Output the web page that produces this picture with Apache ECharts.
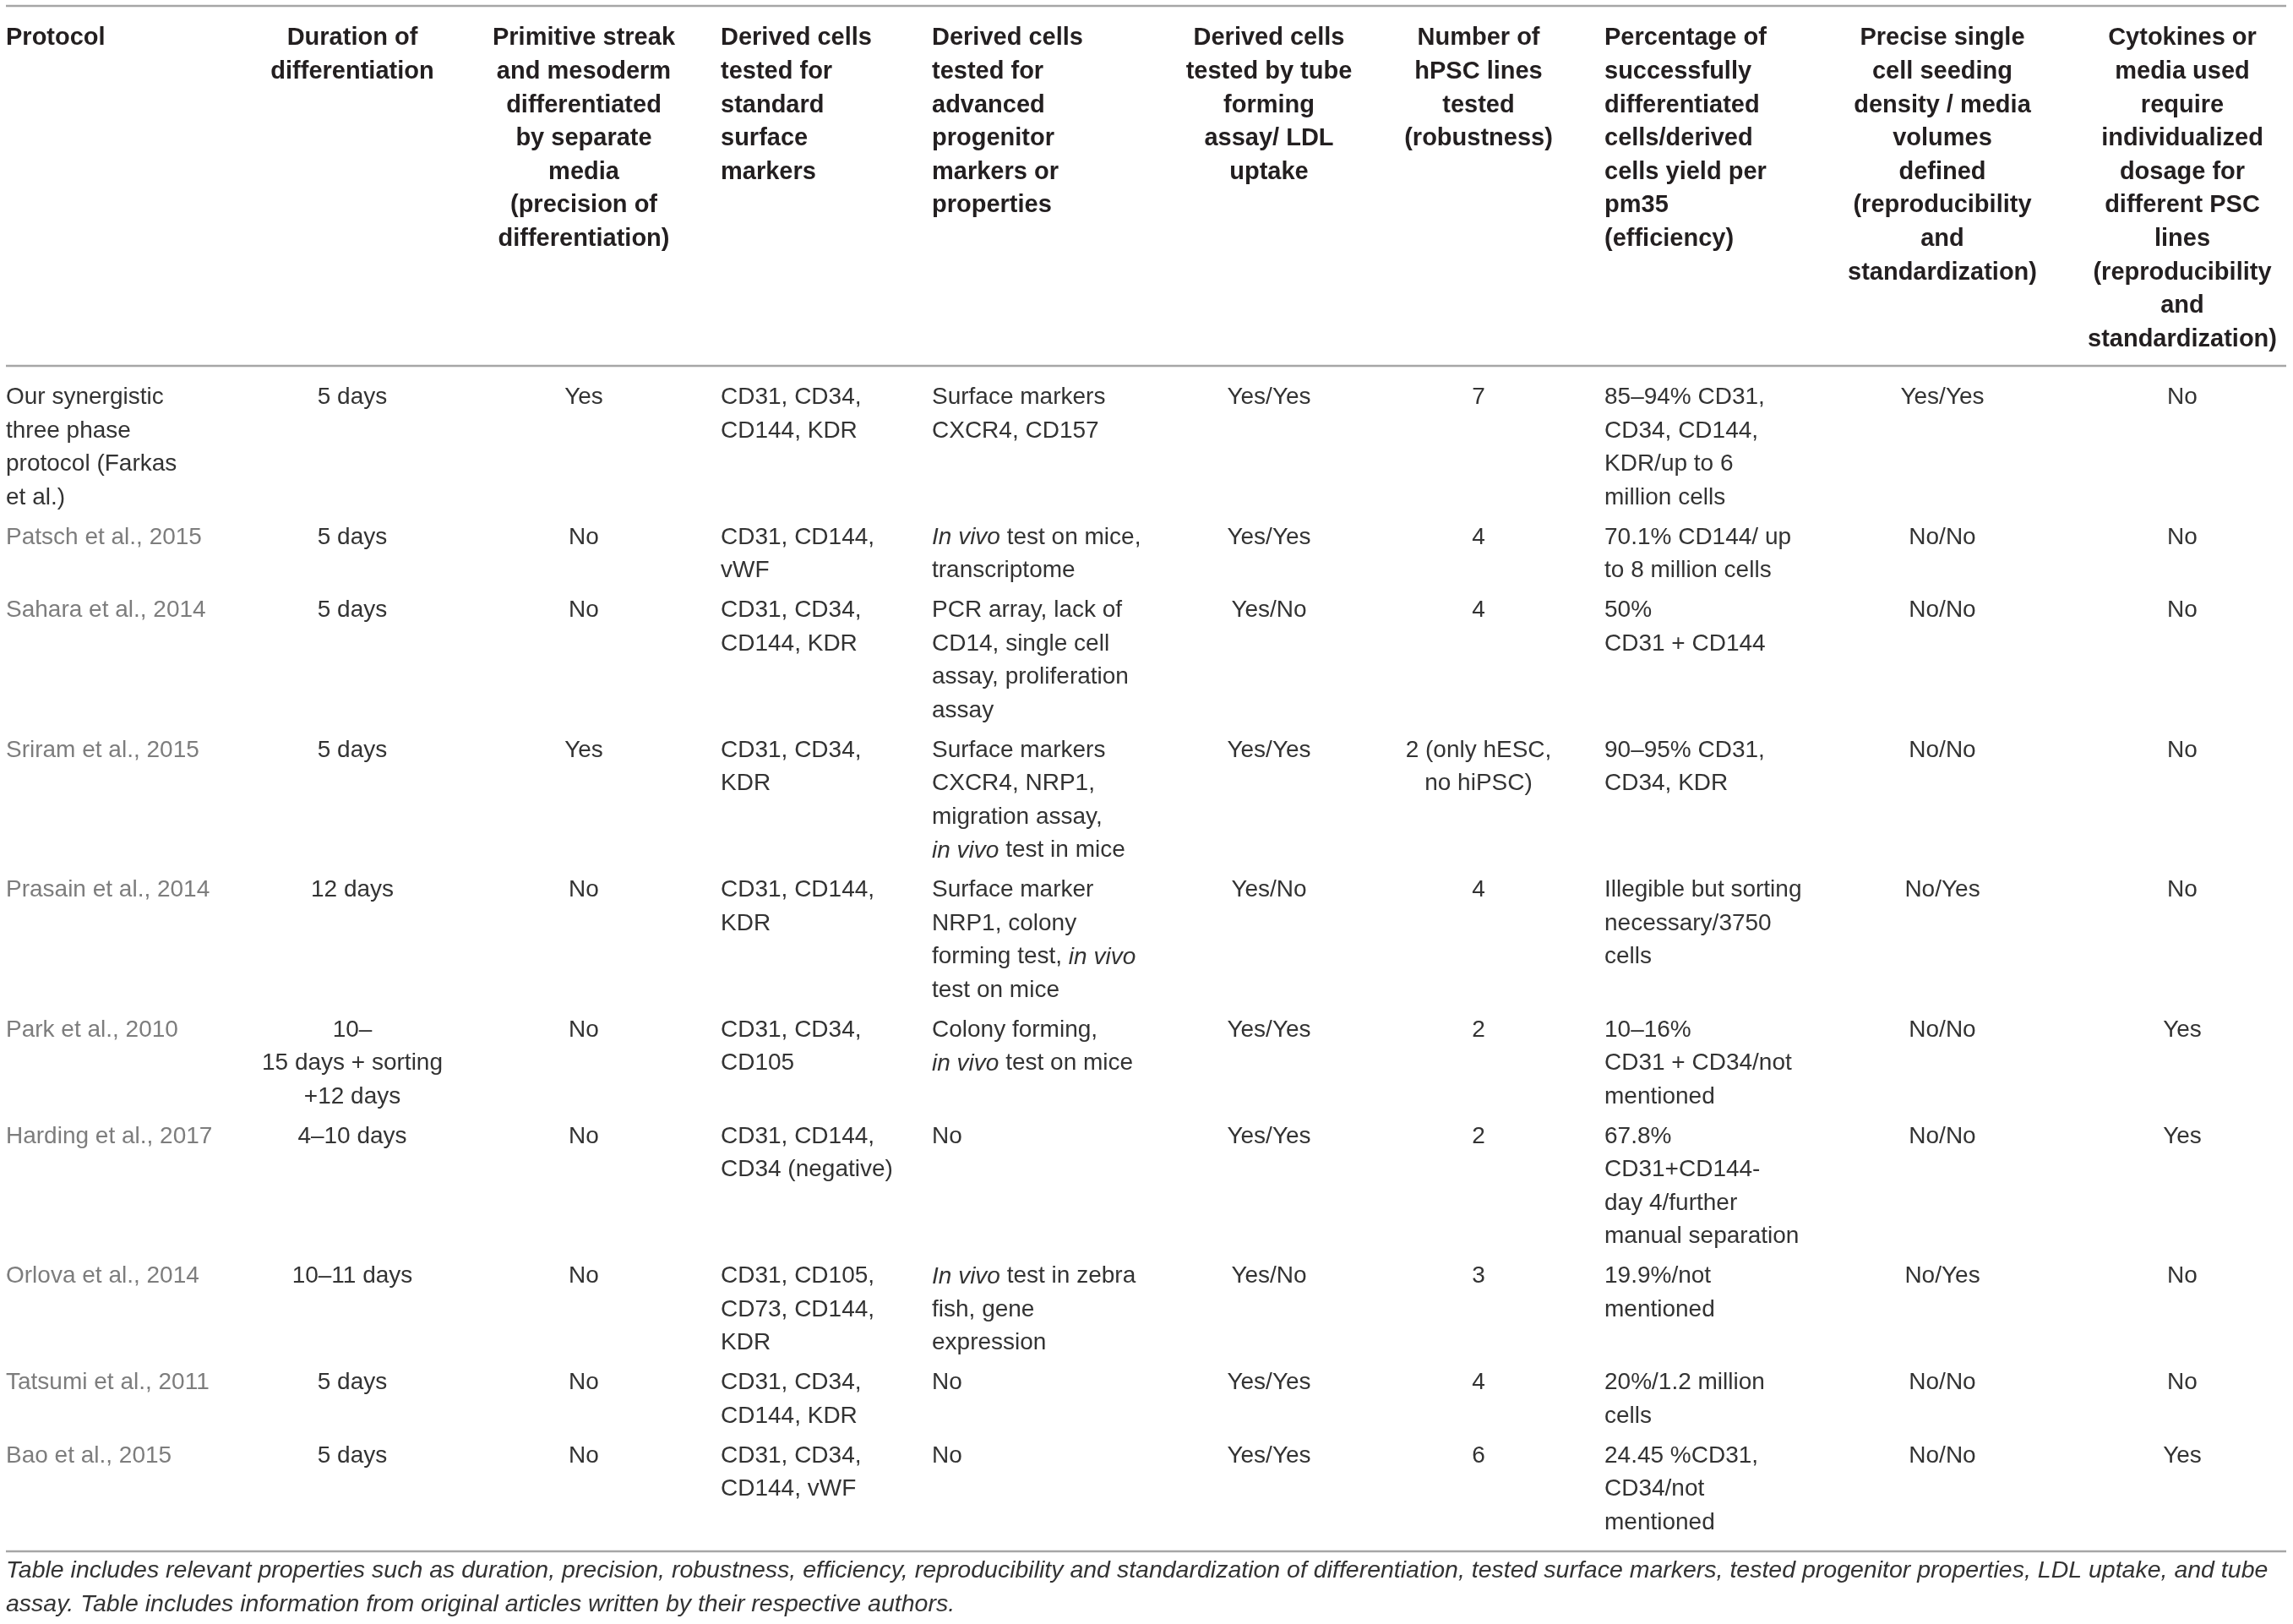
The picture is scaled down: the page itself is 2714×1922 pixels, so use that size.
<!DOCTYPE html>
<html>
<head>
<meta charset="utf-8">
<script src="https://cdn.jsdelivr.net/npm/echarts@6/dist/echarts.min.js"></script>
<style>
  html, body { margin: 0; padding: 0; background: #fff; }
  #chart { width: 2714px; height: 1922px; }
</style>
</head>
<body>
<div id="chart"></div>
<script>
// table content, one array per column
const headers = [
  'Protocol',
  'Duration of\ndifferentiation',
  'Primitive streak\nand mesoderm\ndifferentiated\nby separate\nmedia\n(precision of\ndifferentiation)',
  'Derived cells\ntested for\nstandard\nsurface\nmarkers',
  'Derived cells\ntested for\nadvanced\nprogenitor\nmarkers or\nproperties',
  'Derived cells\ntested by tube\nforming\nassay/ LDL\nuptake',
  'Number of\nhPSC lines\ntested\n(robustness)',
  'Percentage of\nsuccessfully\ndifferentiated\ncells/derived\ncells yield per\npm35\n(efficiency)',
  'Precise single\ncell seeding\ndensity / media\nvolumes\ndefined\n(reproducibility\nand\nstandardization)',
  'Cytokines or\nmedia used\nrequire\nindividualized\ndosage for\ndifferent PSC\nlines\n(reproducibility\nand\nstandardization)'
]

const protocols = [
  'Our synergistic\nthree phase\nprotocol (Farkas\net al.)',
  'Patsch et al., 2015',
  'Sahara et al., 2014',
  'Sriram et al., 2015',
  'Prasain et al., 2014',
  'Park et al., 2010',
  'Harding et al., 2017',
  'Orlova et al., 2014',
  'Tatsumi et al., 2011',
  'Bao et al., 2015'
]

const durations = [
  '5 days', '5 days', '5 days', '5 days', '12 days',
  '10–\n15 days + sorting\n+12 days', '4–10 days', '10–11 days', '5 days', '5 days'
]

const primitiveStreak = ['Yes', 'No', 'No', 'Yes', 'No', 'No', 'No', 'No', 'No', 'No']

const standardMarkers = [
  'CD31, CD34,\nCD144, KDR',
  'CD31, CD144,\nvWF',
  'CD31, CD34,\nCD144, KDR',
  'CD31, CD34,\nKDR',
  'CD31, CD144,\nKDR',
  'CD31, CD34,\nCD105',
  'CD31, CD144,\nCD34 (negative)',
  'CD31, CD105,\nCD73, CD144,\nKDR',
  'CD31, CD34,\nCD144, KDR',
  'CD31, CD34,\nCD144, vWF'
]

const advancedMarkers = [
  'Surface markers\nCXCR4, CD157',
  '{i|In vivo} test on mice,\ntranscriptome',
  'PCR array, lack of\nCD14, single cell\nassay, proliferation\nassay',
  'Surface markers\nCXCR4, NRP1,\nmigration assay,\n{i|in vivo} test in mice',
  'Surface marker\nNRP1, colony\nforming test, {i|in vivo}\ntest on mice',
  'Colony forming,\n{i|in vivo} test on mice',
  'No',
  '{i|In vivo} test in zebra\nfish, gene\nexpression',
  'No',
  'No'
]

const tubeLdl = ['Yes/Yes', 'Yes/Yes', 'Yes/No', 'Yes/Yes', 'Yes/No', 'Yes/Yes', 'Yes/Yes', 'Yes/No', 'Yes/Yes', 'Yes/Yes']

const hpscLines = ['7', '4', '4', '2 (only hESC,\nno hiPSC)', '4', '2', '2', '3', '4', '6']

const efficiency = [
  '85–94% CD31,\nCD34, CD144,\nKDR/up to 6\nmillion cells',
  '70.1% CD144/ up\nto 8 million cells',
  '50%\nCD31 + CD144',
  '90–95% CD31,\nCD34, KDR',
  'Illegible but sorting\nnecessary/3750\ncells',
  '10–16%\nCD31 + CD34/not\nmentioned',
  '67.8%\nCD31+CD144-\nday 4/further\nmanual separation',
  '19.9%/not\nmentioned',
  '20%/1.2 million\ncells',
  '24.45 %CD31,\nCD34/not\nmentioned'
]

const seedingDefined = ['Yes/Yes', 'No/No', 'No/No', 'No/No', 'No/Yes', 'No/No', 'No/No', 'No/Yes', 'No/No', 'No/No']

const individualDosage = ['No', 'No', 'No', 'No', 'No', 'Yes', 'Yes', 'No', 'No', 'Yes']

const footnote = [
  'Table includes relevant properties such as duration, precision, robustness, efficiency, reproducibility and standardization of differentiation, tested surface markers, tested progenitor properties, LDL uptake, and tube',
  'assay. Table includes information from original articles written by their respective authors.'
]

const columns = [protocols, durations, primitiveStreak, standardMarkers, advancedMarkers,
  tubeLdl, hpscLines, efficiency, seedingDefined, individualDosage]

// layout
const colX = [7, 417, 691, 853, 1103, 1502, 1750, 1899, 2299, 2583]
const colAlign = ['left', 'center', 'center', 'left', 'left', 'center', 'center', 'left', 'center', 'center']
const FONT = '"Liberation Sans", Arial, Helvetica, sans-serif'
const LINE = 39.5
const GAP = 7.5
const BODY_TOP = 451

const nLines = s => s.split('\n').length
const rowTops = []
let cursor = BODY_TOP
protocols.forEach((p, i) => {
  rowTops.push(cursor)
  cursor += Math.max(...columns.map(col => nLines(col[i]))) * LINE + GAP
})

const chart = echarts.init(document.getElementById('chart'))

function renderRow(params, api) {
  const i = params.dataIndex
  const children = columns.map((col, c) => {
    const pt = api.coord([colX[c], api.value(1)])
    const text = col[i]
    const fill = (c === 0 && i > 0) ? '#7d7d7d' : '#333333'
    const style = {
      text: text,
      fill: fill,
      fontSize: 28,
      fontFamily: FONT,
      lineHeight: LINE,
      align: colAlign[c],
      verticalAlign: 'top'
    }
    if (text.indexOf('{') >= 0) {
      style.rich = {
        i: { fontStyle: 'italic', fontSize: 28, fontFamily: FONT, fill: fill, lineHeight: LINE }
      }
    }
    return { type: 'text', x: pt[0], y: pt[1], style: style }
  })
  return { type: 'group', children: children }
}

const graphics = [
  { type: 'line', shape: { x1: 7, y1: 7, x2: 2706, y2: 7 }, style: { stroke: '#a6a6a6', lineWidth: 2.5 } },
  { type: 'line', shape: { x1: 7, y1: 433, x2: 2706, y2: 433 }, style: { stroke: '#a6a6a6', lineWidth: 2.5 } },
  { type: 'line', shape: { x1: 7, y1: 1836, x2: 2706, y2: 1836 }, style: { stroke: '#a6a6a6', lineWidth: 2.5 } }
]
headers.forEach((h, c) => {
  graphics.push({
    type: 'text', x: colX[c], y: 25.5,
    style: {
      text: h, fill: '#231f20', fontSize: 29, fontWeight: 'bold', fontFamily: FONT,
      lineHeight: 39.6, align: colAlign[c], verticalAlign: 'top'
    }
  })
})
footnote.forEach((t, k) => {
  graphics.push({
    type: 'text', x: 7, y: 1839 + k * 40,
    style: {
      text: t, fill: '#333333', fontSize: 28.5, fontStyle: 'italic', fontFamily: FONT,
      align: 'left', verticalAlign: 'top', lineHeight: 40
    }
  })
})

chart.setOption({
  backgroundColor: '#ffffff',
  animation: false,
  grid: { left: 0, right: 0, top: 0, bottom: 0 },
  xAxis: { type: 'value', min: 0, max: 2714, show: false },
  yAxis: { type: 'value', min: 0, max: 1922, inverse: true, show: false },
  graphic: graphics,
  series: [
    {
      type: 'custom',
      renderItem: renderRow,
      data: rowTops.map((t, i) => [i, t]),
      silent: true
    }
  ]
})
</script>
</body>
</html>
